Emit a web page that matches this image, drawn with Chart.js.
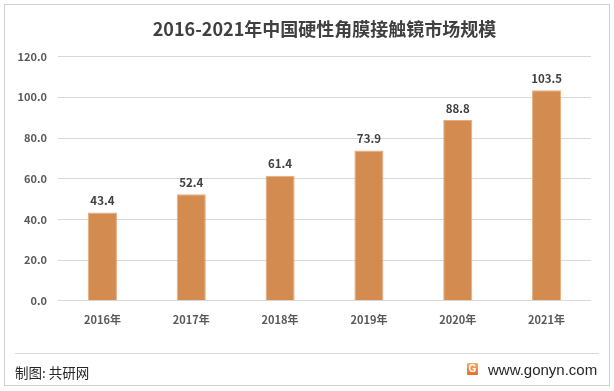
<!DOCTYPE html>
<html><head><meta charset="utf-8">
<script src="https://cdn.jsdelivr.net/npm/chart.js@4/dist/chart.umd.min.js"></script>
<style>
html,body{margin:0;padding:0;background:#fff;}
#wrap{position:absolute;left:0;top:0;width:614px;height:391px;font-family:"Noto Sans CJK SC",sans-serif;}
#frame{position:absolute;left:4px;top:4px;width:606px;height:382px;border:1px solid #d0d0d0;box-sizing:border-box;}
#sep{position:absolute;left:15px;top:353px;width:584px;height:1px;background:#d9d9d9;}
#src{position:absolute;left:15px;top:362px;font-size:13.5px;line-height:20px;color:#262626;}
#site{position:absolute;left:488px;top:360px;font-size:15px;line-height:20px;color:#262626;font-family:"Liberation Sans",Arial,sans-serif;}
#logo{position:absolute;left:467px;top:363px;width:11px;height:12px;background:linear-gradient(#f7b06a,#ec6a2c);border-radius:1px;color:#fff;font:bold 10px "Liberation Sans",sans-serif;text-align:center;line-height:12px;}
canvas{position:absolute;left:0;top:0;}
</style></head>
<body>
<div id="wrap">
<div id="frame"></div>
<canvas id="c" width="614" height="391"></canvas>
<div id="sep"></div>
<div id="src">制图: 共研网</div>
<div id="logo">G</div>
<div id="site">www.gonyn.com</div>
</div>
<script>
const categories = ["2016年","2017年","2018年","2019年","2020年","2021年"];
const marketSize = [43.4, 52.4, 61.4, 73.9, 88.8, 103.5];
const titleText = "2016-2021年中国硬性角膜接触镜市场规模";

const valueLabels = {
  id: 'valueLabels',
  afterDatasetsDraw(chart) {
    const ctx = chart.ctx;
    const meta = chart.getDatasetMeta(0);
    ctx.save();
    ctx.font = 'bold 11.5px "Noto Sans CJK SC", sans-serif';
    ctx.fillStyle = '#404040';
    ctx.textAlign = 'center';
    ctx.textBaseline = 'bottom';
    meta.data.forEach((bar, i) => {
      ctx.fillText(marketSize[i].toFixed(1), bar.x, bar.y - 6);
    });
    ctx.restore();
  }
};

new Chart(document.getElementById('c'), {
  type: 'bar',
  data: {
    labels: categories,
    datasets: [{
      data: marketSize,
      backgroundColor: '#D48B4F',
      borderColor: '#E6AD7E',
      borderWidth: 1,
      barPercentage: 0.655,
      categoryPercentage: 0.5
    }]
  },
  options: {
    responsive: false,
    animation: false,
    layout: { padding: { left: 0, right: 23, top: 10, bottom: 61 } },
    plugins: {
      legend: { display: false },
      tooltip: { enabled: false },
      title: {
        display: true,
        fullSize: false,
        text: titleText,
        color: '#404040',
        font: { size: 18, weight: 'bold', family: '"Noto Sans CJK SC", sans-serif' },
        padding: { top: 8, bottom: 17 }
      }
    },
    scales: {
      x: {
        grid: { display: false },
        border: { display: false },
        ticks: { color: '#595959', font: { size: 11, weight: 'bold', family: '"Noto Sans CJK SC", sans-serif' }, padding: 4 }
      },
      y: {
        min: 0, max: 120,
        afterFit: s => { s.width = 58; },
        ticks: { stepSize: 20, color: '#595959', padding: 11,
          font: { size: 11, weight: 'bold', family: '"Noto Sans CJK SC", sans-serif' },
          callback: v => v.toFixed(1) },
        grid: { color: '#D9D9D9', drawTicks: false },
        border: { display: false }
      }
    }
  },
  plugins: [valueLabels]
});
</script>
</body></html>
